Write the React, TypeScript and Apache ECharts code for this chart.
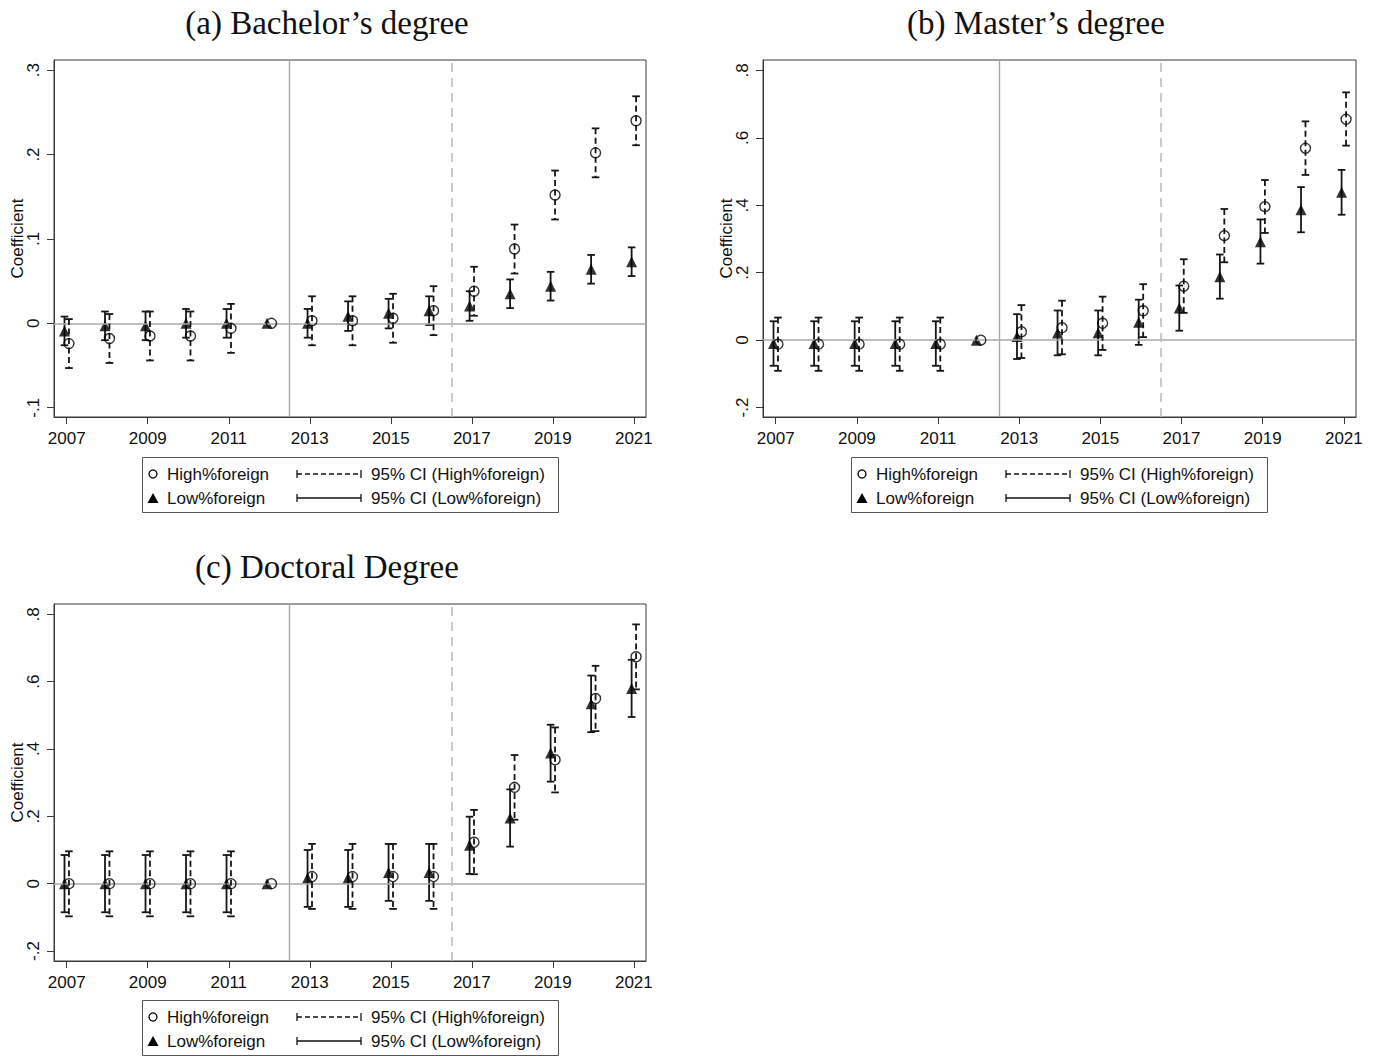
import React, { useEffect, useRef } from "react";
import * as echarts from "echarts";

const years = [2007, 2008, 2009, 2010, 2011, 2012, 2013, 2014, 2015, 2016, 2017, 2018, 2019, 2020, 2021];
const xTickYears = [2007, 2009, 2011, 2013, 2015, 2017, 2019, 2021];

const panelTitles = ["(a) Bachelor\u2019s degree", "(b) Master\u2019s degree", "(c) Doctoral Degree"];
const yTicksA = [-0.1, 0, 0.1, 0.2, 0.3];
const yTicksBC = [-0.2, 0, 0.2, 0.4, 0.6, 0.8];

// Panel (a) Bachelor's degree
const aHigh = [-0.024, -0.018, -0.015, -0.015, -0.006, 0, 0.003, 0.003, 0.006, 0.015, 0.038, 0.088, 0.152, 0.202, 0.240];
const aHighLo = [-0.053, -0.047, -0.044, -0.044, -0.035, null, -0.026, -0.026, -0.023, -0.014, 0.009, 0.059, 0.123, 0.173, 0.211];
const aHighHi = [0.005, 0.011, 0.014, 0.014, 0.023, null, 0.032, 0.032, 0.035, 0.044, 0.067, 0.117, 0.181, 0.231, 0.269];
const aLow = [-0.009, -0.003, -0.003, 0.000, 0.000, 0, 0.000, 0.0085, 0.012, 0.015, 0.0205, 0.035, 0.044, 0.064, 0.073];
const aLowLo = [-0.026, -0.020, -0.020, -0.017, -0.017, null, -0.017, -0.009, -0.006, -0.002, 0.003, 0.018, 0.027, 0.047, 0.056];
const aLowHi = [0.008, 0.014, 0.014, 0.017, 0.017, null, 0.017, 0.026, 0.029, 0.032, 0.038, 0.052, 0.061, 0.081, 0.090];

// Panel (b) Master's degree
const bHigh = [-0.012, -0.012, -0.012, -0.012, -0.012, 0, 0.025, 0.037, 0.050, 0.087, 0.160, 0.310, 0.396, 0.569, 0.655];
const bHighLo = [-0.091, -0.091, -0.091, -0.091, -0.091, null, -0.053, -0.042, -0.029, 0.009, 0.081, 0.231, 0.318, 0.490, 0.577];
const bHighHi = [0.067, 0.067, 0.067, 0.067, 0.067, null, 0.104, 0.117, 0.129, 0.166, 0.240, 0.389, 0.475, 0.649, 0.735];
const bLow = [-0.010, -0.010, -0.010, -0.010, -0.010, 0, 0.011, 0.021, 0.022, 0.053, 0.095, 0.188, 0.292, 0.387, 0.439];
const bLowLo = [-0.076, -0.076, -0.076, -0.076, -0.076, null, -0.056, -0.045, -0.045, -0.014, 0.028, 0.123, 0.227, 0.320, 0.372];
const bLowHi = [0.056, 0.056, 0.056, 0.056, 0.056, null, 0.077, 0.088, 0.088, 0.120, 0.162, 0.254, 0.358, 0.454, 0.505];

// Panel (c) Doctoral degree
const cHigh = [0, 0, 0, 0, 0, 0, 0.021, 0.021, 0.021, 0.021, 0.123, 0.286, 0.368, 0.550, 0.674];
const cHighLo = [-0.097, -0.097, -0.097, -0.097, -0.097, null, -0.075, -0.075, -0.075, -0.075, 0.028, 0.190, 0.271, 0.453, 0.577];
const cHighHi = [0.096, 0.096, 0.096, 0.096, 0.096, null, 0.118, 0.118, 0.118, 0.118, 0.219, 0.382, 0.464, 0.647, 0.770];
const cLow = [0, 0, 0, 0, 0, 0, 0.017, 0.017, 0.033, 0.033, 0.114, 0.195, 0.388, 0.534, 0.580];
const cLowLo = [-0.085, -0.085, -0.085, -0.085, -0.085, null, -0.069, -0.069, -0.051, -0.051, 0.029, 0.110, 0.303, 0.450, 0.495];
const cLowHi = [0.085, 0.085, 0.085, 0.085, 0.085, null, 0.100, 0.100, 0.118, 0.118, 0.199, 0.280, 0.472, 0.618, 0.665];

const legendHigh = "High%foreign";
const legendLow = "Low%foreign";
const legendCIHigh = "95% CI (High%foreign)";
const legendCILow = "95% CI (Low%foreign)";

const SANS = "'Liberation Sans', Arial, sans-serif";
const SERIF = "'Liberation Serif', 'Times New Roman', serif";
const OFFSET = 0.055;

type Panel = {
  high: number[]; highLo: (number | null)[]; highHi: (number | null)[];
  low: number[]; lowLo: (number | null)[]; lowHi: (number | null)[];
  yMin: number; yMax: number; yTicks: number[];
  grid: { left: number; top: number; width: number; height: number };
  title: string; titleX: number; titleY: number;
  legendX: number; legendY: number;
};

const panels: Panel[] = [
  {
    high: aHigh, highLo: aHighLo, highHi: aHighHi, low: aLow, lowLo: aLowLo, lowHi: aLowHi,
    yMin: -0.111, yMax: 0.312, yTicks: yTicksA,
    grid: { left: 54, top: 60, width: 592, height: 357 },
    title: panelTitles[0], titleX: 327, titleY: 23, legendX: 142, legendY: 457,
  },
  {
    high: bHigh, highLo: bHighLo, highHi: bHighHi, low: bLow, lowLo: bLowLo, lowHi: bLowHi,
    yMin: -0.228, yMax: 0.831, yTicks: yTicksBC,
    grid: { left: 763, top: 60, width: 593, height: 357 },
    title: panelTitles[1], titleX: 1036, titleY: 23, legendX: 851, legendY: 457,
  },
  {
    high: cHigh, highLo: cHighLo, highHi: cHighHi, low: cLow, lowLo: cLowLo, lowHi: cLowHi,
    yMin: -0.2297, yMax: 0.8306, yTicks: yTicksBC,
    grid: { left: 54, top: 604, width: 592, height: 357 },
    title: panelTitles[2], titleX: 327, titleY: 567, legendX: 142, legendY: 1000,
  },
];

function fmtY(v: number): string {
  const s = Math.round(v * 10) / 10;
  if (s === 0) return "0";
  return String(s).replace("0.", ".");
}

function ciRender(dashed: boolean) {
  return (params: any, api: any) => {
    const x = api.value(0);
    const lo = api.value(1);
    const hi = api.value(2);
    const top = api.coord([x, hi]);
    const bot = api.coord([x, lo]);
    const w = 3.8;
    const stroke = "#151515";
    return {
      type: "group",
      children: [
        { type: "line", shape: { x1: top[0], y1: top[1], x2: bot[0], y2: bot[1] }, style: { stroke, lineWidth: 1.8, lineDash: dashed ? [6, 3.5] : null } },
        { type: "line", shape: { x1: top[0] - w, y1: top[1], x2: top[0] + w, y2: top[1] }, style: { stroke, lineWidth: 1.8 } },
        { type: "line", shape: { x1: bot[0] - w, y1: bot[1], x2: bot[0] + w, y2: bot[1] }, style: { stroke, lineWidth: 1.8 } },
      ],
    };
  };
}

function legendGraphics(x0: number, y0: number): any[] {
  const r1 = y0 + 17;
  const r2 = y0 + 41;
  const font = `17px ${SANS}`;
  const els: any[] = [
    { type: "rect", shape: { x: x0 + 0.5, y: y0 + 0.5, width: 416, height: 55 }, style: { fill: "#fff", stroke: "#555", lineWidth: 1 } },
    { type: "circle", shape: { cx: x0 + 11, cy: r1, r: 4 }, style: { fill: "none", stroke: "#000", lineWidth: 1.3 } },
    { type: "polygon", shape: { points: [[x0 + 5.5, r2 + 5], [x0 + 16.5, r2 + 5], [x0 + 11, r2 - 5]] }, style: { fill: "#000" } },
    { type: "text", x: x0 + 25, y: r1, style: { text: legendHigh, font, fill: "#111", verticalAlign: "middle", align: "left" } },
    { type: "text", x: x0 + 25, y: r2, style: { text: legendLow, font, fill: "#111", verticalAlign: "middle", align: "left" } },
    { type: "line", shape: { x1: x0 + 155, y1: r1, x2: x0 + 219, y2: r1 }, style: { stroke: "#111", lineWidth: 1.3, lineDash: [5, 3] } },
    { type: "line", shape: { x1: x0 + 155, y1: r2, x2: x0 + 219, y2: r2 }, style: { stroke: "#111", lineWidth: 1.3 } },
    { type: "text", x: x0 + 229, y: r1, style: { text: legendCIHigh, font, fill: "#111", verticalAlign: "middle", align: "left" } },
    { type: "text", x: x0 + 229, y: r2, style: { text: legendCILow, font, fill: "#111", verticalAlign: "middle", align: "left" } },
  ];
  for (const ry of [r1, r2]) {
    for (const lx of [x0 + 155, x0 + 219]) {
      els.push({ type: "line", shape: { x1: lx, y1: ry - 4, x2: lx, y2: ry + 4 }, style: { stroke: "#111", lineWidth: 1.3 } });
    }
  }
  return els;
}

export default function App() {
  const ref = useRef<HTMLDivElement>(null);

  useEffect(() => {
    document.body.style.margin = "0";
    if (!ref.current) return;
    const chart = echarts.init(ref.current, null, { renderer: "svg" });

    const grids: any[] = [];
    const xAxes: any[] = [];
    const yAxes: any[] = [];
    const series: any[] = [];
    const graphics: any[] = [];

    panels.forEach((p, i) => {
      grids.push({ ...p.grid, show: true, borderColor: "#3a3a3a", borderWidth: 1, backgroundColor: "#fff" });
      xAxes.push({
        type: "value", gridIndex: i, min: 2006.686, max: 2021.3,
        axisLine: { show: true, onZero: false, lineStyle: { color: "#3a3a3a", width: 1 } },
        axisTick: { show: true, length: 7, customValues: xTickYears, lineStyle: { color: "#3a3a3a", width: 1 } },
        axisLabel: { customValues: xTickYears, fontSize: 17, fontFamily: SANS, color: "#111", margin: 13, formatter: (v: number) => String(Math.round(v)) },
        splitLine: { show: false },
      });
      yAxes.push({
        type: "value", gridIndex: i, min: p.yMin, max: p.yMax,
        axisLine: { show: true, onZero: false, lineStyle: { color: "#3a3a3a", width: 1 } },
        axisTick: { show: true, length: 7, customValues: p.yTicks, lineStyle: { color: "#3a3a3a", width: 1 } },
        axisLabel: { customValues: p.yTicks, rotate: 90, fontSize: 17, fontFamily: SANS, color: "#111", margin: 12, formatter: fmtY },
        splitLine: { show: false },
      });

      // reference lines
      series.push({
        type: "line", xAxisIndex: i, yAxisIndex: i, data: [], silent: true,
        markLine: {
          silent: true, symbol: "none", label: { show: false },
          data: [
            { yAxis: 0, lineStyle: { color: "#a8a8a8", width: 1.6, type: "solid" } },
            { xAxis: 2012.5, lineStyle: { color: "#a8a8a8", width: 1.4, type: "solid" } },
            { xAxis: 2016.5, lineStyle: { color: "#bdbdbd", width: 1.6, type: [9, 6] } },
          ],
        },
      });

      const lowCI = years.map((y, k) => (p.lowLo[k] == null ? null : [y - OFFSET, p.lowLo[k], p.lowHi[k]])).filter(Boolean);
      const highCI = years.map((y, k) => (p.highLo[k] == null ? null : [y + OFFSET, p.highLo[k], p.highHi[k]])).filter(Boolean);

      series.push({
        type: "custom", xAxisIndex: i, yAxisIndex: i, renderItem: ciRender(false), data: lowCI,
        encode: { x: 0, y: [1, 2] }, silent: true, z: 3,
      });
      series.push({
        type: "scatter", xAxisIndex: i, yAxisIndex: i, symbol: "triangle", symbolSize: [11, 11],
        itemStyle: { color: "#000" }, data: years.map((y, k) => [y - OFFSET, p.low[k]]), silent: true, z: 4,
      });
      series.push({
        type: "custom", xAxisIndex: i, yAxisIndex: i, renderItem: ciRender(true), data: highCI,
        encode: { x: 0, y: [1, 2] }, silent: true, z: 5,
      });
      series.push({
        type: "scatter", xAxisIndex: i, yAxisIndex: i, symbol: "circle", symbolSize: 10,
        itemStyle: { color: "rgba(0,0,0,0)", borderColor: "#000", borderWidth: 1.4 },
        data: years.map((y, k) => [y + OFFSET, p.high[k]]), silent: true, z: 6,
      });

      graphics.push({
        type: "text", x: p.titleX, y: p.titleY,
        style: { text: p.title, font: `33px ${SERIF}`, fill: "#111", align: "center", verticalAlign: "middle" },
      });
      graphics.push({
        type: "text", x: p.grid.left - 37, y: p.grid.top + p.grid.height / 2, rotation: Math.PI / 2,
        style: { text: "Coefficient", font: `17px ${SANS}`, fill: "#111", align: "center", verticalAlign: "middle" },
      });
      graphics.push(...legendGraphics(p.legendX, p.legendY));
    });

    chart.setOption({
      animation: false,
      backgroundColor: "#fff",
      grid: grids,
      xAxis: xAxes,
      yAxis: yAxes,
      series,
      graphic: graphics,
    });

    return () => chart.dispose();
  }, []);

  return <div ref={ref} style={{ width: 1380, height: 1057 }} />;
}
